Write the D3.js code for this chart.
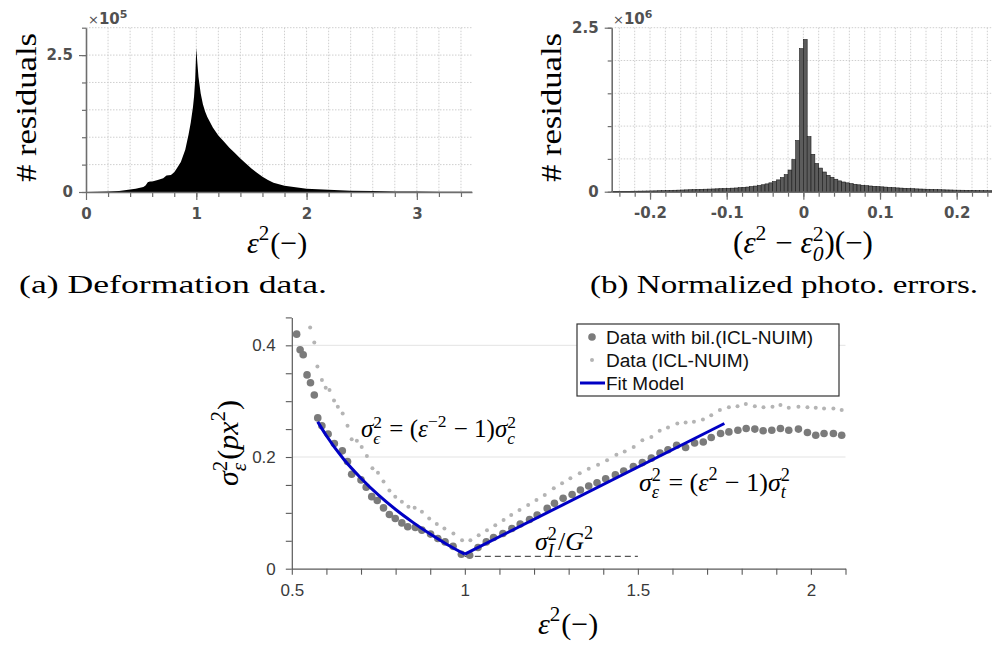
<!DOCTYPE html>
<html>
<head>
<meta charset="utf-8">
<script src="https://cdn.jsdelivr.net/npm/d3@7"></script>
<style>
  body { margin: 0; background: #fff; }
  svg { display: block; }
</style>
</head>
<body>
<svg id="fig" width="992" height="648"></svg>
<script>
// ---- (a) deformation histogram, counts in units of 1e5
const defX = [0, 0.1, 0.2, 0.3, 0.4, 0.45, 0.5, 0.52, 0.54, 0.56, 0.58, 0.6, 0.65, 0.7, 0.73, 0.77, 0.8, 0.82, 0.86, 0.9,
  0.93, 0.95, 0.97, 0.98, 0.99, 1.0, 1.01, 1.02, 1.04, 1.06, 1.08, 1.1, 1.15, 1.2, 1.25, 1.3, 1.35, 1.4, 1.45, 1.5,
  1.55, 1.6, 1.65, 1.7, 1.75, 1.8, 1.9, 2.0, 2.2, 2.4, 2.6, 2.8, 3.0, 3.2, 3.5];
const defCount = [0, 0.003, 0.01, 0.02, 0.045, 0.06, 0.08, 0.09, 0.12, 0.18, 0.19, 0.19, 0.22, 0.25, 0.3, 0.31, 0.36, 0.42, 0.55, 0.77,
  1.05, 1.27, 1.55, 1.75, 2.05, 2.63, 2.35, 2.1, 1.8, 1.6, 1.47, 1.37, 1.18, 1.03, 0.92, 0.81, 0.71, 0.61, 0.52, 0.43,
  0.35, 0.28, 0.22, 0.17, 0.14, 0.115, 0.085, 0.06, 0.04, 0.025, 0.016, 0.011, 0.008, 0.006, 0.004];

// ---- (b) normalized photometric error histogram, bins of 0.005 from -0.25, counts in 1e6
const errBinStart = -0.25;
const errBinWidth = 0.005;
const errCount = [
  0.004, 0.005, 0.005, 0.006, 0.006, 0.007, 0.008, 0.009, 0.010, 0.011,
  0.012, 0.013, 0.015, 0.016, 0.018, 0.020, 0.022, 0.024, 0.026, 0.028,
  0.030, 0.032, 0.034, 0.036, 0.038, 0.040, 0.042, 0.044, 0.046, 0.048,
  0.051, 0.054, 0.057, 0.061, 0.066, 0.071, 0.078, 0.086, 0.095, 0.106,
  0.119, 0.135, 0.155, 0.18, 0.215, 0.26, 0.33, 0.49, 0.78, 2.18,
  2.32, 0.84, 0.57, 0.43, 0.36, 0.30, 0.25, 0.22, 0.19, 0.165,
  0.148, 0.135, 0.123, 0.113, 0.105, 0.098, 0.092, 0.087, 0.082, 0.078,
  0.074, 0.070, 0.066, 0.062, 0.058, 0.055, 0.052, 0.049, 0.046, 0.043,
  0.041, 0.039, 0.037, 0.035, 0.033, 0.031, 0.029, 0.027, 0.026, 0.024,
  0.023, 0.022, 0.021, 0.020, 0.019, 0.018, 0.017, 0.016, 0.015, 0.014];

// ---- (c) variance vs deformation
const bilX = [0.514, 0.524, 0.533, 0.544, 0.554, 0.565, 0.575, 0.587, 0.605, 0.623, 0.646, 0.661, 0.673, 0.700, 0.715, 0.731,
  0.747, 0.765, 0.782, 0.799, 0.818, 0.835, 0.857, 0.876, 0.901, 0.922, 0.943, 0.966, 0.990, 1.014, 1.038, 1.062,
  1.083, 1.110, 1.136, 1.160, 1.187, 1.209, 1.238, 1.259, 1.284, 1.310, 1.334, 1.358, 1.382, 1.407, 1.435, 1.459,
  1.487, 1.513, 1.539, 1.564, 1.587, 1.612, 1.638, 1.664, 1.689, 1.712, 1.739, 1.763, 1.789, 1.813, 1.838, 1.862,
  1.887, 1.912, 1.936, 1.964, 1.990, 2.014, 2.038, 2.065, 2.089];
const bilY = [0.420, 0.392, 0.383, 0.347, 0.333, 0.311, 0.270, 0.256, 0.241, 0.224, 0.211, 0.192, 0.169, 0.159, 0.146, 0.129,
  0.122, 0.109, 0.097, 0.090, 0.082, 0.075, 0.074, 0.069, 0.062, 0.054, 0.048, 0.040, 0.026, 0.024, 0.038, 0.048,
  0.056, 0.063, 0.072, 0.080, 0.088, 0.096, 0.108, 0.117, 0.126, 0.133, 0.141, 0.148, 0.154, 0.161, 0.168, 0.175,
  0.183, 0.190, 0.198, 0.207, 0.213, 0.221, 0.217, 0.225, 0.227, 0.235, 0.242, 0.245, 0.248, 0.251, 0.250, 0.247,
  0.248, 0.251, 0.248, 0.250, 0.244, 0.239, 0.242, 0.242, 0.239];
const rawX = [0.553, 0.565, 0.574, 0.587, 0.598, 0.609, 0.622, 0.633, 0.647, 0.661, 0.673, 0.688, 0.702, 0.717, 0.733, 0.749,
  0.765, 0.782, 0.799, 0.818, 0.837, 0.855, 0.876, 0.897, 0.919, 0.941, 0.967, 0.992, 1.016, 1.040, 1.064, 1.088,
  1.112, 1.134, 1.158, 1.183, 1.207, 1.231, 1.257, 1.281, 1.305, 1.332, 1.358, 1.385, 1.411, 1.438, 1.462, 1.488,
  1.513, 1.539, 1.563, 1.587, 1.614, 1.638, 1.662, 1.688, 1.712, 1.737, 1.763, 1.788, 1.812, 1.838, 1.863, 1.889,
  1.912, 1.936, 1.964, 1.990, 2.014, 2.038, 2.065, 2.089];
const rawY = [0.432, 0.405, 0.362, 0.338, 0.324, 0.320, 0.301, 0.290, 0.278, 0.256, 0.232, 0.229, 0.218, 0.202, 0.180, 0.172,
  0.156, 0.140, 0.129, 0.120, 0.111, 0.109, 0.102, 0.090, 0.080, 0.072, 0.063, 0.051, 0.051, 0.060, 0.069, 0.078,
  0.087, 0.096, 0.105, 0.114, 0.123, 0.132, 0.144, 0.153, 0.162, 0.171, 0.179, 0.186, 0.194, 0.204, 0.210, 0.218,
  0.230, 0.236, 0.247, 0.253, 0.260, 0.262, 0.263, 0.267, 0.275, 0.284, 0.289, 0.291, 0.295, 0.291, 0.289, 0.290,
  0.293, 0.288, 0.290, 0.289, 0.288, 0.287, 0.287, 0.284];
// fit model: compression branch and tension branch
const fitLeftX = [0.575, 0.6, 0.65, 0.7, 0.75, 0.8, 0.85, 0.9, 0.95, 1.0];
const fitLeftY = [0.263, 0.238, 0.196, 0.162, 0.132, 0.106, 0.083, 0.062, 0.043, 0.026];
const fitRightX = [1.0, 1.75];
const fitRightY = [0.026, 0.260];
const noiseFloorX = [1.0, 1.5];
const noiseFloorY = 0.022;

const legendLabels = ['Data with bil.(ICL-NUIM)', 'Data (ICL-NUIM)', 'Fit Model'];
const legendWidths = [207, 143, 78];

const svg = d3.select('#fig');
const serif = 'Liberation Serif, DejaVu Serif, serif';
const tickFont = 'DejaVu Sans, sans-serif';

// latex-ish formula as one <text>; parts: {t, it} or {sup, sub}
function mathText(parent, x, y, parts, size, opts = {}) {
  const g = parent.append('g').attr('transform', `translate(${x},${y})${opts.rotate ? ' rotate(-90)' : ''}`);
  const measure = (str, fs, it) => {
    const t = g.append('text').attr('font-family', serif).attr('font-size', fs)
      .attr('font-style', it ? 'italic' : 'normal').style('white-space', 'pre').text(str);
    const w = t.node().getComputedTextLength();
    t.remove();
    return w;
  };
  const text = g.append('text')
    .attr('font-family', serif).attr('font-size', size)
    .attr('text-anchor', opts.anchor || 'start')
    .attr('fill', opts.color || '#000')
    .style('white-space', 'pre');
  let cur = 0;
  let pendingDx = 0;
  parts.forEach(p => {
    if (p.t !== undefined) {
      text.append('tspan').attr('dx', pendingDx).attr('dy', -cur)
        .attr('font-style', p.it ? 'italic' : 'normal').text(p.t);
      cur = 0;
      pendingDx = 0;
    } else {
      const s = size * 0.7;
      let wSup = 0, wSub = 0;
      if (p.sup) {
        const off = -size * (p.sub ? 0.38 : 0.42);
        text.append('tspan').attr('dx', pendingDx).attr('dy', off - cur)
          .attr('font-size', s).attr('font-style', 'normal').text(p.sup);
        cur = off;
        pendingDx = 0;
        wSup = measure(p.sup, s, false);
      }
      if (p.sub) {
        const off = size * 0.27;
        text.append('tspan').attr('dx', p.sup ? -wSup : pendingDx).attr('dy', off - cur)
          .attr('font-size', s).attr('font-style', 'italic').text(p.sub);
        cur = off;
        wSub = measure(p.sub, s, true);
      }
      const w = Math.max(wSup, wSub);
      pendingDx = w - (p.sub ? wSub : wSup) + 1;
    }
  });
  return g;
}

function timesTen(parent, x, y, exp) {
  const t = parent.append('text').attr('x', x).attr('y', y)
    .attr('font-family', tickFont).attr('fill', '#505050');
  t.append('tspan').attr('font-size', 13).text('×');
  t.append('tspan').attr('font-size', 15).attr('font-weight', 'bold').text('10');
  t.append('tspan').attr('font-size', 11).attr('font-weight', 'bold').attr('dy', -6).text(exp);
}

function styleHistAxis(g) {
  g.selectAll('path.domain').attr('stroke', '#6e6e6e').attr('stroke-width', 1.6);
  g.selectAll('.tick line').attr('stroke', '#6e6e6e').attr('stroke-width', 1.2);
  g.selectAll('.tick text').attr('font-family', tickFont).attr('font-weight', 'bold')
    .attr('font-size', 15).attr('fill', '#505050');
}

function histGrid(x, y, xMinor, yMinor) {
  const [x0, x1] = x.range();
  const [y0, y1] = y.range();
  const grid = svg.append('g').attr('stroke', '#cfcfcf').attr('stroke-width', 1).attr('stroke-dasharray', '1.5,1.5');
  grid.selectAll('.gx').data(xMinor).join('line')
    .attr('x1', d => x(d)).attr('x2', d => x(d)).attr('y1', y1).attr('y2', y0);
  grid.selectAll('.gy').data(yMinor.filter(d => d > 0)).join('line')
    .attr('x1', x0).attr('x2', x1).attr('y1', d => y(d)).attr('y2', d => y(d));
}

function histAxes(x, y, xMinor, xMajor, yMinor, yMajor, yFmt, xFmt) {
  const [x0] = x.range();
  const [y0] = y.range();
  const bx = svg.append('g').attr('transform', `translate(0,${y0})`);
  bx.call(d3.axisBottom(x).tickValues(xMinor).tickSize(5).tickSizeOuter(0).tickFormat(''));
  const bxM = svg.append('g').attr('transform', `translate(0,${y0})`);
  bxM.call(d3.axisBottom(x).tickValues(xMajor).tickSize(8).tickSizeOuter(0).tickPadding(8).tickFormat(xFmt));
  bxM.select('path.domain').remove();
  const ly = svg.append('g').attr('transform', `translate(${x0},0)`);
  ly.call(d3.axisLeft(y).tickValues(yMinor).tickSize(4).tickSizeOuter(0).tickFormat(''));
  const lyM = svg.append('g').attr('transform', `translate(${x0},0)`);
  lyM.call(d3.axisLeft(y).tickValues(yMajor).tickSize(7).tickSizeOuter(0).tickPadding(6).tickFormat(yFmt));
  lyM.select('path.domain').remove();
  [bx, bxM, ly, lyM].forEach(styleHistAxis);
}

const fmtTick = d => d === 0 ? '0' : d3.format('.1f')(d).replace('−', '-');

// ================= (a)
const xA = d3.scaleLinear().domain([0, 3.5]).range([86, 472]);
const yA = d3.scaleLinear().domain([0, 3]).range([192, 27.7]);
const aMinorX = d3.range(1, 18).map(i => i * 0.2);
const aMinorY = d3.range(0, 7).map(i => i * 0.5);
histGrid(xA, yA, aMinorX, aMinorY);
svg.append('path')
  .datum(defX.map((d, i) => [d, defCount[i]]))
  .attr('fill', '#000')
  .attr('d', d3.area().x(d => xA(d[0])).y0(yA(0)).y1(d => yA(d[1])));
histAxes(xA, yA, aMinorX, [0, 1, 2, 3], aMinorY, [0, 2.5], fmtTick, d3.format('d'));
timesTen(svg, 88, 24, '5');
svg.append('text').attr('transform', 'translate(36,107.5) rotate(-90)')
  .attr('text-anchor', 'middle').attr('font-family', serif).attr('font-size', 30)
  .attr('textLength', 149).attr('lengthAdjust', 'spacingAndGlyphs').text('# residuals');
mathText(svg, 277, 253, [{ t: 'ε', it: true }, { sup: '2' }, { t: '(−)' }], 30, { anchor: 'middle' });
svg.append('text').attr('x', 19).attr('y', 293).attr('font-family', serif).attr('font-size', 26)
  .attr('textLength', 308).attr('lengthAdjust', 'spacingAndGlyphs').text('(a) Deformation data.');

// ================= (b)
const xB = d3.scaleLinear().domain([-0.25, 0.25]).range([611.7, 995]);
const yB = d3.scaleLinear().domain([0, 2.5]).range([191.7, 27.7]);
const bMinorX = d3.range(-12, 13).map(i => i * 0.02);
const bMinorY = d3.range(0, 6).map(i => i * 0.5);
histGrid(xB, yB, bMinorX, bMinorY);
svg.append('g').selectAll('rect').data(errCount).join('rect')
  .attr('x', (d, i) => xB(errBinStart + i * errBinWidth))
  .attr('width', (d, i) => xB(errBinStart + (i + 1) * errBinWidth) - xB(errBinStart + i * errBinWidth))
  .attr('y', d => yB(d))
  .attr('height', d => yB(0) - yB(d))
  .attr('fill', '#5c5c5c').attr('stroke', '#1c1c1c').attr('stroke-width', 0.6);
histAxes(xB, yB, bMinorX, [-0.2, -0.1, 0, 0.1, 0.2], bMinorY, [0, 2.5], fmtTick, fmtTick);
timesTen(svg, 613, 24, '6');
svg.append('text').attr('transform', 'translate(561,107.5) rotate(-90)')
  .attr('text-anchor', 'middle').attr('font-family', serif).attr('font-size', 30)
  .attr('textLength', 149).attr('lengthAdjust', 'spacingAndGlyphs').text('# residuals');
mathText(svg, 803, 253, [{ t: '(' }, { t: 'ε', it: true }, { sup: '2' }, { t: ' − ' }, { t: 'ε', it: true },
  { sup: '2', sub: '0' }, { t: ')(−)' }], 31, { anchor: 'middle' });
svg.append('text').attr('x', 590).attr('y', 293).attr('font-family', serif).attr('font-size', 26)
  .attr('textLength', 388).attr('lengthAdjust', 'spacingAndGlyphs').text('(b) Normalized photo. errors.');

// ================= (c)
const xC = d3.scaleLinear().domain([0.5, 2.1]).range([291.8, 845.5]);
const yC = d3.scaleLinear().domain([0, 0.45]).range([568.7, 317.4]);
const gC = svg.append('g');
gC.selectAll('.hg').data([0.2, 0.4]).join('line')
  .attr('x1', xC(0.5)).attr('x2', xC(2.1)).attr('y1', d => yC(d)).attr('y2', d => yC(d))
  .attr('stroke', '#e3e3e3').attr('stroke-width', 1);

const isMajor = (list) => d => list.some(v => Math.abs(v - d) < 1e-9) ? d3.format('~g')(d) : '';
const axC = gC.append('g').attr('transform', `translate(0,${yC(0)})`)
  .call(d3.axisBottom(xC).tickValues(d3.range(5, 22).map(i => i / 10)).tickSize(6).tickSizeOuter(0).tickPadding(9)
    .tickFormat(isMajor([0.5, 1, 1.5, 2])));
const ayC = gC.append('g').attr('transform', `translate(${xC(0.5)},0)`)
  .call(d3.axisLeft(yC).tickValues(d3.range(0, 10).map(i => i * 0.05)).tickSize(6).tickSizeOuter(0).tickPadding(10)
    .tickFormat(isMajor([0, 0.2, 0.4])));
[axC, ayC].forEach(g => {
  g.selectAll('path.domain').attr('stroke', '#5a5a5a').attr('stroke-width', 1.2);
  g.selectAll('.tick line').attr('stroke', '#5a5a5a').attr('stroke-width', 1.1);
  g.selectAll('.tick text').attr('font-family', 'Liberation Sans, Arial, sans-serif')
    .attr('font-size', 17).attr('fill', '#3a3a3a');
});

gC.append('path')
  .datum(noiseFloorX)
  .attr('d', d3.line().x(d => xC(d)).y(() => yC(noiseFloorY)))
  .attr('stroke', '#555').attr('stroke-width', 1.3).attr('stroke-dasharray', '6,4').attr('fill', 'none');

gC.append('g').selectAll('circle').data(rawX).join('circle')
  .attr('cx', d => xC(d)).attr('cy', (d, i) => yC(rawY[i])).attr('r', 2)
  .attr('fill', '#b4b4b4');
gC.append('g').selectAll('circle').data(bilX).join('circle')
  .attr('cx', d => xC(d)).attr('cy', (d, i) => yC(bilY[i])).attr('r', 3.8)
  .attr('fill', '#7b7b7b');

const fitColor = '#0000c4';
gC.append('path').datum(fitLeftX.map((d, i) => [d, fitLeftY[i]]))
  .attr('d', d3.line().x(d => xC(d[0])).y(d => yC(d[1])).curve(d3.curveMonotoneX))
  .attr('stroke', fitColor).attr('stroke-width', 3).attr('fill', 'none');
gC.append('path').datum(fitRightX.map((d, i) => [d, fitRightY[i]]))
  .attr('d', d3.line().x(d => xC(d[0])).y(d => yC(d[1])))
  .attr('stroke', fitColor).attr('stroke-width', 3).attr('fill', 'none');

// annotations
mathText(gC, 361, 437, [{ t: 'σ', it: true }, { sup: '2', sub: 'ϵ' }, { t: ' = (' }, { t: 'ε', it: true },
  { sup: '−2' }, { t: ' − 1)' }, { t: 'σ', it: true }, { sup: '2', sub: 'c' }], 25);
mathText(gC, 639, 491, [{ t: 'σ', it: true }, { sup: '2', sub: 'ε' }, { t: ' = (' }, { t: 'ε', it: true },
  { sup: '2' }, { t: ' − 1)' }, { t: 'σ', it: true }, { sup: '2', sub: 't' }], 26);
mathText(gC, 535, 550, [{ t: 'σ', it: true }, { sup: '2', sub: 'I' }, { t: '/' }, { t: 'G', it: true }, { sup: '2' }], 26);

// axis labels
mathText(gC, 568, 634, [{ t: 'ε', it: true }, { sup: '2' }, { t: '(−)' }], 30, { anchor: 'middle' });
mathText(gC, 238, 443, [{ t: 'σ', it: true }, { sup: '2', sub: 'ε' }, { t: '(' }, { t: 'px', it: true }, { sup: '2' }, { t: ')' }],
  30, { anchor: 'middle', rotate: true });

// legend
const leg = gC.append('g');
leg.append('rect').attr('x', 577).attr('y', 324).attr('width', 262).attr('height', 72)
  .attr('fill', '#fff').attr('stroke', '#333').attr('stroke-width', 1.2);
const rowY = [337, 360, 383];
leg.append('circle').attr('cx', 592).attr('cy', rowY[0]).attr('r', 3.8).attr('fill', '#7b7b7b');
leg.append('circle').attr('cx', 592).attr('cy', rowY[1]).attr('r', 2).attr('fill', '#b4b4b4');
leg.append('line').attr('x1', 580).attr('x2', 605).attr('y1', rowY[2]).attr('y2', rowY[2])
  .attr('stroke', fitColor).attr('stroke-width', 3);
leg.selectAll('text').data(legendLabels).join('text')
  .attr('x', 606).attr('y', (d, i) => rowY[i] + 6.5)
  .attr('font-family', 'Liberation Sans, Arial, sans-serif').attr('font-size', 18).attr('fill', '#111')
  .attr('textLength', (d, i) => legendWidths[i]).attr('lengthAdjust', 'spacingAndGlyphs')
  .text(d => d);
</script>
</body>
</html>
